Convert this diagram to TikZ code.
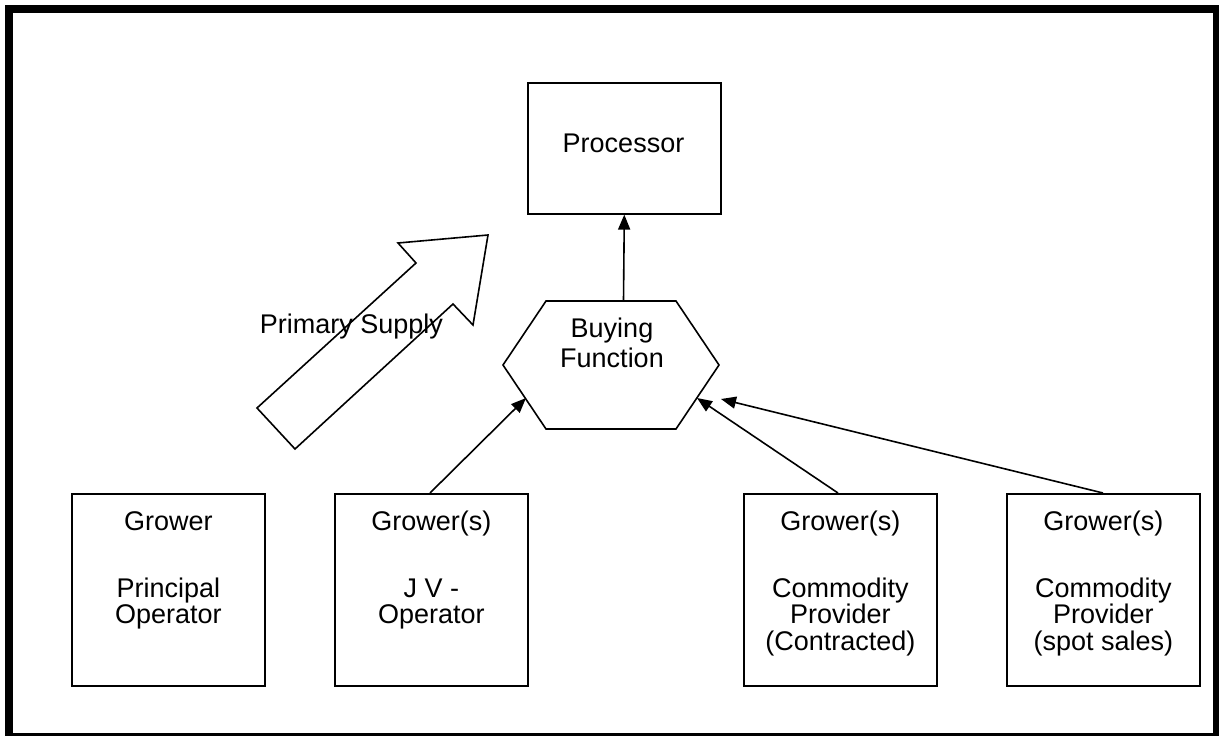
\documentclass[tikz,border=0pt]{standalone}
\usepackage{fontspec}
\setmainfont{Liberation Sans}
\usetikzlibrary{arrows.meta,calc}

\begin{document}
\begin{tikzpicture}[x=1pt,y=-1pt,
  line width=1.6pt,
  txt/.style={font=\fontsize{27}{26.5}\selectfont, inner sep=0pt, align=center},
  growerbox/.style={draw, minimum width=193pt, minimum height=192pt, inner sep=0pt, anchor=north west},
  feed/.style={-{Triangle[length=15pt,width=12pt]}, line width=1.6pt}
]
\useasboundingbox (0,0) rectangle (1219,736);
\fill[white] (0,0) rectangle (1219,736);
% outer frame
\draw[line width=8pt] (9,9) rectangle (1217,737);

% processor
\node[draw, minimum width=193pt, minimum height=131pt, inner sep=0pt, anchor=north west] (proc) at (527,82) {};
\node[txt, anchor=base] (proct) at (623.5,152) {Processor};

% buying function hexagon
\coordinate (h1) at (546,301);
\coordinate (h2) at (676,301);
\coordinate (h3) at (719,365);
\coordinate (h4) at (676,429);
\coordinate (h5) at (546,429);
\coordinate (h6) at (503,365);
\draw (h1) -- (h2) -- (h3) -- (h4) -- (h5) -- (h6) -- cycle;
% multi-line nodes sit on the baseline of their last line
\node[txt, anchor=base] (buyt) at (612,367) {Buying\\[3.5pt]Function};
\coordinate (htop) at (623.5,301);
\coordinate (hll) at (526,398);
\coordinate (hlr) at (697,398);
\coordinate (hr) at (721,399);

% grower boxes
\node[growerbox] (g1) at (71,493) {};
\node[growerbox] (g2) at (334,493) {};
\node[growerbox] (g3) at (743,493) {};
\node[growerbox] (g4) at (1006,493) {};

\node[txt, anchor=base] (g1t) at ($(g1.north)+(0,130.5)$) {Grower\\[40.5pt]Principal\\Operator};
\node[txt, anchor=base] (g2t) at ($(g2.north)+(0,130.5)$) {Grower(s)\\[40.5pt]J V -\\Operator};
\node[txt, anchor=base] (g3t) at ($(g3.north)+(0,157)$) {Grower(s)\\[40.5pt]Commodity\\Provider\\(Contracted)};
\node[txt, anchor=base] (g4t) at ($(g4.north)+(0,157)$) {Grower(s)\\[40.5pt]Commodity\\Provider\\(spot sales)};

% connectors
\draw[feed] (htop) -- (proc.south);
\coordinate (g2top) at (430,493);
\coordinate (g3top) at (838,493);
\coordinate (g4top) at (1103,493);
\draw[feed] (g2top) -- (hll);
\draw[feed] (g3top) -- (hlr);
\draw[feed] (g4top) -- (hr);

% primary supply block arrow
\coordinate (a1) at (257,408);
\coordinate (a2) at (416,263);
\coordinate (a3) at (398,243);
\coordinate (a4) at (488,235);
\coordinate (a5) at (473,325);
\coordinate (a6) at (453,304);
\coordinate (a7) at (295,449);
\draw[line join=miter] (a1) -- (a2) -- (a3) -- (a4) -- (a5) -- (a6) -- (a7) -- cycle;
\node[txt, anchor=base west] (ps) at (259,333) {Primary Supply};
\end{tikzpicture}
\end{document}
